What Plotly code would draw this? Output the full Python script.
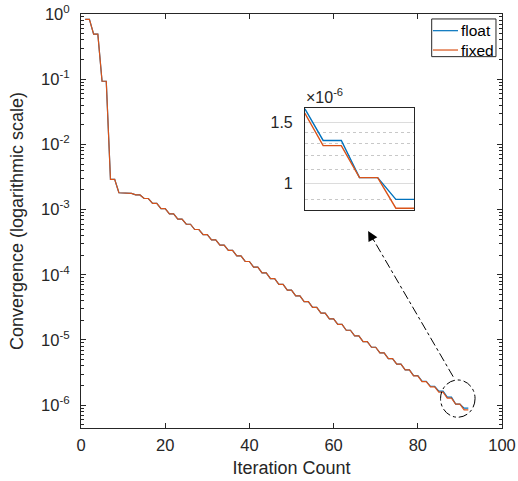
import math
import plotly.graph_objects as go

# ---------------- data ----------------
iterations = list(range(1, 93))

float_vals = [
    0.83, 0.83, 0.49, 0.49, 0.093, 0.093, 0.0029, 0.0029,
    1.811e-3, 1.811e-3, 1.770e-3, 1.770e-3, 1.679e-3, 1.679e-3, 1.479e-3, 1.479e-3,
    1.245e-3, 1.245e-3, 1.035e-3, 1.035e-3, 8.61e-4, 8.61e-4, 7.16e-4, 7.16e-4,
    5.96e-4, 5.96e-4, 4.95e-4, 4.95e-4, 4.12e-4, 4.12e-4, 3.43e-4, 3.43e-4,
    2.85e-4, 2.85e-4, 2.37e-4, 2.37e-4, 1.95e-4, 1.95e-4, 1.60e-4, 1.60e-4,
    1.31e-4, 1.31e-4, 1.07e-4, 1.07e-4, 8.73e-5, 8.73e-5, 7.13e-5, 7.13e-5,
    5.82e-5, 5.82e-5, 4.75e-5, 4.75e-5, 3.88e-5, 3.88e-5, 3.17e-5, 3.17e-5,
    2.59e-5, 2.59e-5, 2.11e-5, 2.11e-5, 1.73e-5, 1.73e-5, 1.41e-5, 1.41e-5,
    1.16e-5, 1.16e-5, 9.46e-6, 9.46e-6, 7.74e-6, 7.74e-6, 6.34e-6, 6.34e-6,
    5.19e-6, 5.19e-6, 4.25e-6, 4.25e-6, 3.48e-6, 3.48e-6, 2.84e-6, 2.84e-6,
    2.33e-6, 2.33e-6, 1.95e-6, 1.95e-6, 1.64e-6, 1.64e-6, 1.33e-6, 1.33e-6,
    1.04e-6, 1.04e-6, 0.90e-6, 0.90e-6,
]

fixed_vals = [
    0.83, 0.83, 0.49, 0.49, 0.093, 0.093, 0.0029, 0.0029,
    1.811e-3, 1.811e-3, 1.770e-3, 1.770e-3, 1.679e-3, 1.679e-3, 1.479e-3, 1.479e-3,
    1.245e-3, 1.245e-3, 1.035e-3, 1.035e-3, 8.61e-4, 8.61e-4, 7.16e-4, 7.16e-4,
    5.96e-4, 5.96e-4, 4.95e-4, 4.95e-4, 4.12e-4, 4.12e-4, 3.43e-4, 3.43e-4,
    2.85e-4, 2.85e-4, 2.37e-4, 2.37e-4, 1.95e-4, 1.95e-4, 1.60e-4, 1.60e-4,
    1.31e-4, 1.31e-4, 1.07e-4, 1.07e-4, 8.73e-5, 8.73e-5, 7.13e-5, 7.13e-5,
    5.82e-5, 5.82e-5, 4.75e-5, 4.75e-5, 3.88e-5, 3.88e-5, 3.17e-5, 3.17e-5,
    2.59e-5, 2.59e-5, 2.11e-5, 2.11e-5, 1.73e-5, 1.73e-5, 1.41e-5, 1.41e-5,
    1.16e-5, 1.16e-5, 9.46e-6, 9.46e-6, 7.74e-6, 7.74e-6, 6.34e-6, 6.34e-6,
    5.19e-6, 5.19e-6, 4.25e-6, 4.25e-6, 3.48e-6, 3.48e-6, 2.82e-6, 2.82e-6,
    2.29e-6, 2.29e-6, 1.91e-6, 1.91e-6, 1.59e-6, 1.59e-6, 1.285e-6, 1.285e-6,
    1.04e-6, 1.04e-6, 0.849e-6, 0.849e-6,
]

series_names = ["float", "fixed"]
y_tick_vals = [1e0, 1e-1, 1e-2, 1e-3, 1e-4, 1e-5, 1e-6]
y_tick_text = ["10<sup>0</sup>", "10<sup>-1</sup>", "10<sup>-2</sup>", "10<sup>-3</sup>",
               "10<sup>-4</sup>", "10<sup>-5</sup>", "10<sup>-6</sup>"]
inset_tick_vals = [1e-6, 1.5e-6]
inset_tick_text = ["1", "1.5"]
inset_minor_vals = [0.9e-6, 1.1e-6, 1.2e-6, 1.3e-6, 1.4e-6]

# ---------------- style ----------------
BLUE = "#0072BD"
ORANGE = "#D95319"
AX = "#262626"
FONT = "Liberation Sans, Arial, sans-serif"
COLORS = [BLUE, ORANGE]

minor_log = [m * 10.0 ** e for e in range(-7, 0) for m in range(2, 10)]

fig = go.Figure()

for name, vals, col in zip(series_names, [float_vals, fixed_vals], COLORS):
    fig.add_trace(go.Scatter(x=iterations, y=vals, mode="lines", name=name, showlegend=False,
                             line=dict(color=col, width=1.2), xaxis="x", yaxis="y"))
for name, vals, col in zip(series_names, [float_vals, fixed_vals], COLORS):
    fig.add_trace(go.Scatter(x=iterations, y=vals, mode="lines", name=name, showlegend=False,
                             line=dict(color=col, width=1.4), xaxis="x2", yaxis="y2"))

fig.update_layout(
    width=518, height=481,
    margin=dict(l=81, r=16, t=14, b=53, autoexpand=False),
    paper_bgcolor="white", plot_bgcolor="white",
    font=dict(family=FONT, color=AX, size=16),
    showlegend=False,
    xaxis=dict(domain=[0, 1], range=[0, 100], dtick=20, tick0=0, automargin=False,
               showgrid=False, zeroline=False,
               showline=True, linecolor=AX, linewidth=1, mirror="ticks",
               ticks="inside", ticklen=5, tickcolor=AX, ticklabelstandoff=2,
               tickfont=dict(size=16.5, color=AX),
               title=dict(text="Iteration Count", font=dict(size=18, color=AX), standoff=8)),
    yaxis=dict(domain=[0, 1], type="log", range=[-6.35, 0], automargin=False,
               tickvals=y_tick_vals, ticktext=y_tick_text,
               showgrid=False, zeroline=False,
               showline=True, linecolor=AX, linewidth=1, mirror="ticks",
               ticks="inside", ticklen=5, tickcolor=AX, ticklabelstandoff=7,
               minor=dict(tickvals=minor_log, ticks="inside", ticklen=3, tickcolor=AX, showgrid=False),
               tickfont=dict(size=16.5, color=AX),
               title=dict(text="Convergence (logarithmic scale)", font=dict(size=18, color=AX), standoff=12)),
    xaxis2=dict(domain=[0.532, 0.791], anchor="y2", range=[86, 92], automargin=False,
                showticklabels=False, ticks="", showgrid=False, zeroline=False,
                showline=True, linecolor=AX, linewidth=1, mirror=True),
    yaxis2=dict(domain=[0.527, 0.772], anchor="x2", type="log", automargin=False,
                range=[math.log10(0.84e-6), math.log10(1.645e-6)],
                tickvals=inset_tick_vals, ticktext=inset_tick_text,
                showgrid=True, gridcolor="#dcdcdc", gridwidth=1, zeroline=False,
                showline=True, linecolor=AX, linewidth=1, mirror=True,
                ticks="", ticklabelstandoff=8,
                minor=dict(tickvals=inset_minor_vals, ticks="", showgrid=True,
                           gridcolor="#c8c8c8", griddash="dot", gridwidth=1),
                tickfont=dict(size=16, color=AX)),
)

# exponent label of the inset
fig.add_annotation(text="\u00d710<sup>-6</sup>", xref="x2 domain", yref="y2 domain",
                   x=-0.01, y=1.0, xanchor="left", yanchor="bottom", showarrow=False,
                   font=dict(size=16, color=AX, family=FONT))

# legend box (drawn in paper coordinates, MATLAB-style compact)
fig.add_shape(type="rect", xref="paper", yref="paper", x0=0.833, x1=0.9857, y0=0.897, y1=0.988,
              line=dict(color=AX, width=1), fillcolor="white", layer="above")
for name, col, ly in zip(series_names, COLORS, [0.9597, 0.913]):
    fig.add_shape(type="line", xref="paper", yref="paper", x0=0.836, x1=0.8955, y0=ly, y1=ly,
                  line=dict(color=col, width=1.2), layer="above")
    fig.add_annotation(text=name, xref="paper", yref="paper", x=0.8975, y=ly,
                       xanchor="left", yanchor="middle", showarrow=False,
                       font=dict(size=15.5, color="#000000", family=FONT))

# dash-dot circle around the end of the curves (paper coordinates)
fig.add_shape(type="circle", xref="paper", yref="paper",
              x0=0.854, x1=0.936, y0=0.026, y1=0.116,
              line=dict(color="black", width=1, dash="dashdot"))

# dash-dot arrow pointing to the inset
tail = (0.884, 0.124)
head = (0.682, 0.476)
fig.add_shape(type="line", xref="paper", yref="paper",
              x0=tail[0], y0=tail[1], x1=head[0] + 0.012, y1=head[1] - 0.02,
              line=dict(color="black", width=1, dash="dashdot"))
fig.add_annotation(x=head[0], y=head[1], xref="paper", yref="paper",
                   ax=6, ay=11, axref="pixel", ayref="pixel", text="",
                   showarrow=True, arrowhead=2, arrowsize=2, arrowwidth=1, arrowcolor="black")

fig.write_html("out.html", config={"displayModeBar": False},
               post_script="document.body.style.margin='0';")
